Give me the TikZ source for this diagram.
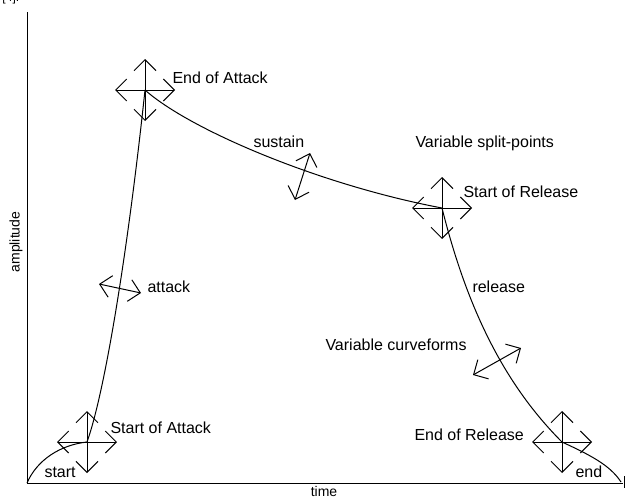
\documentclass[tikz,border=0pt]{standalone}
\usepackage{fontspec}
\setmainfont{Liberation Sans}
\usetikzlibrary{arrows.meta,calc}
\begin{document}
\begin{tikzpicture}[x=0.5pt,y=-0.5pt,line width=0.5pt,
  tip/.style={{Straight Barb[length=5.5pt,width=11pt]}-{Straight Barb[length=5.5pt,width=11pt]}},
  lbl/.style={font=\fontsize{8}{9.6}\selectfont,inner sep=0pt,anchor=base west},
  axlbl/.style={font=\fontsize{7}{8.4}\selectfont,inner sep=0pt},
  curve/.style={line width=0.5pt}]
\useasboundingbox (0,0) rectangle (626,498);
\clip (0,0) rectangle (626,498);
% cut-off reference mark
\node[font=\fontsize{6}{7}\selectfont,inner sep=0pt,anchor=base west] (ref) at (2,1.5) {[4].};
% axes
\coordinate (O) at (27,483);
\coordinate (Ytop) at (27,12);
\coordinate (Xend) at (623,483);
\coordinate (Tt) at (624,476);
\coordinate (Tb) at (624,488);
\draw (Ytop) -- (O) -- (Xend);
\draw (Tt) -- (Tb);
\node[axlbl,anchor=base] (time) at (324,496) {time};
\node[axlbl,rotate=90] (amp) at (16,242) {amplitude};
% key points
\coordinate (SA) at (87,442);
\coordinate (EA) at (145,90);
\coordinate (SR) at (442,208);
\coordinate (ER) at (562,442);
\coordinate (E) at (621,482);
% envelope
\draw[curve] (O) .. controls (37,460) and (60,445) .. (SA);
\draw[curve] (SA) .. controls (105,392) and (128,250) .. (EA);
\draw[curve] (EA) .. controls (190,130) and (320,185) .. (SR);
\draw[curve] (SR) .. controls (465,300) and (500,380) .. (ER);
\draw[curve] (ER) .. controls (590,455) and (610,465) .. (E);
% cross markers
\foreach \c in {SA,EA,SR,ER}{
  \draw[tip] ($(\c)+(0,-31)$) -- ($(\c)+(0,31)$);
  \draw[tip] ($(\c)+(-30,0)$) -- ($(\c)+(30,0)$);
}
% two-way arrows
\coordinate (s1) at (310,153); \coordinate (s2) at (295,200);
\coordinate (a1) at (99,284);  \coordinate (a2) at (141,293);
\coordinate (c1) at (473,375); \coordinate (c2) at (521,348);
\draw[tip] (s1) -- (s2);
\draw[tip] (a1) -- (a2);
\draw[tip] (c1) -- (c2);
% labels
\node[lbl] (lEA) at (172,83) {End of Attack};
\node[lbl] (lsus) at (253,147) {sustain};
\node[lbl] (lvsp) at (415,147) {Variable split-points};
\node[lbl] (lSR) at (463,197) {Start of Release};
\node[lbl] (latt) at (147,292) {attack};
\node[lbl] (lrel) at (472,292) {release};
\node[lbl] (lvc) at (325,350) {Variable curveforms};
\node[lbl] (lSA) at (110,433) {Start of Attack};
\node[lbl] (lstart) at (44,477) {start};
\node[lbl] (lER) at (414,440) {End of Release};
\node[lbl] (lend) at (575,477) {end};
\end{tikzpicture}
\end{document}
